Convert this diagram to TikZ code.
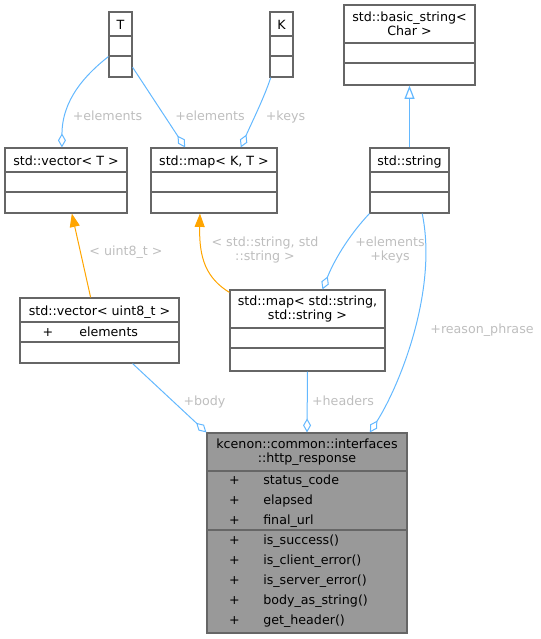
\documentclass[tikz,border=0pt]{standalone}
\usepackage{fontspec}
\usepackage{xcolor}
\usepackage{tikz}
\setmainfont{DejaVu Sans}
\usetikzlibrary{arrows.meta}
\definecolor{edgeblue}{HTML}{63B8FF}
\definecolor{edgeorange}{HTML}{FFA500}
\definecolor{boxgrey}{HTML}{666666}
\definecolor{labelgrey}{HTML}{BEBEBE}
\definecolor{mainfill}{HTML}{999999}

\begin{document}
\begin{tikzpicture}[x=0.75pt,y=0.75pt,yscale=-1,xscale=1,
  font=\fontsize{9.5}{10.5}\selectfont,
  cls/.style={draw=boxgrey, line width=0.9pt, fill=white, inner sep=0pt},
  agg/.style={draw=edgeblue, line width=0.75pt, -{Diamond[open,fill=white,length=10.5pt,width=6pt]}},
  tmpl/.style={draw=edgeorange, line width=0.75pt, -{Triangle[length=10pt,width=7.5pt]}},
  inh/.style={draw=edgeblue, line width=0.9pt, -{Triangle[open,fill=white,length=10pt,width=7.5pt]}},
  lbl/.style={text=labelgrey, inner sep=0.75pt, anchor=base},
  txt/.style={inner sep=0.75pt, anchor=base}]
%set diagram left start at 0, and has height of 639
\useasboundingbox (0,0) rectangle (541,639);

%Shape: Class boxes
\node[cls, minimum width=17.25pt, minimum height=48.75pt] (T) at (120.5,44.5) {};
\node[cls, minimum width=17.25pt, minimum height=48.75pt] (K) at (281.5,44.5) {};
\node[cls, minimum width=98.25pt, minimum height=60pt] (bstr) at (409.5,45) {};
\node[cls, minimum width=59.25pt, minimum height=48.75pt] (str) at (409.5,180.5) {};
\node[cls, minimum width=91.5pt, minimum height=48.75pt] (vecT) at (66,180.5) {};
\node[cls, minimum width=94.5pt, minimum height=48.75pt] (mapKT) at (214,180.5) {};
\node[cls, minimum width=119.25pt, minimum height=48.75pt] (vecU8) at (99.5,330.5) {};
\node[cls, minimum width=116.25pt, minimum height=60.75pt] (mapSS) at (307.5,330.5) {};
\node[cls, fill=mainfill, minimum width=150pt, minimum height=150pt] (resp) at (307,533) {};

%Straight Lines: compartments
\draw[boxgrey, line width=0.9pt] (109,36) -- (132,36) (109,56) -- (132,56);
\draw[boxgrey, line width=0.9pt] (270,36) -- (293,36) (270,56) -- (293,56);
\draw[boxgrey, line width=0.9pt] (344,43) -- (475,43) (344,63) -- (475,63);
\draw[boxgrey, line width=0.9pt] (370,172) -- (449,172) (370,192) -- (449,192);
\draw[boxgrey, line width=0.9pt] (5,172) -- (127,172) (5,192) -- (127,192);
\draw[boxgrey, line width=0.9pt] (151,172) -- (277,172) (151,192) -- (277,192);
\draw[boxgrey, line width=0.9pt] (20,322) -- (179,322) (20,342) -- (179,342);
\draw[boxgrey, line width=0.9pt] (230,328) -- (385,328) (230,348) -- (385,348);
\draw[boxgrey, line width=0.9pt] (207,471) -- (407,471) (207,530) -- (407,530);

% Text Node
\node[txt] (Tname) at (120.5,29.5) {T};
% Text Node
\node[txt] (Kname) at (281.5,29.5) {K};
% Text Node
\node[inner sep=0.75pt, align=center] (bstrname) at (409.5,23.5) {std::basic\_string<\\Char >};
% Text Node
\node[txt] (strname) at (409.5,165) {std::string};
% Text Node
\node[txt] (vecTname) at (66,165) {std::vector< T >};
% Text Node
\node[txt] (mapKTname) at (214,165) {std::map< K, T >};
% Text Node
\node[txt] (vecU8name) at (99.5,315) {std::vector< uint8\_t >};
\node[txt] (vecU8plus) at (48,336) {+};
\node[txt, anchor=base west] (vecU8elem) at (78,336) {elements};
% Text Node
\node[inner sep=0.75pt, align=center] (mapSSname) at (307.5,309.5) {std::map< std::string,\\std::string >};
% Text Node
\node[inner sep=0.75pt, align=center] (respname) at (307,452) {kcenon::common::interfaces\\::http\_response};
\foreach \m [count=\i from 0] in {status\_code,elapsed,final\_url,is\_success(),is\_client\_error(),is\_server\_error(),body\_as\_string(),get\_header()}{
  \node[txt] (respplus\i) at (234.5,484+20*\i) {+};
  \node[txt, anchor=base west] (respmem\i) at (262,484+20*\i) {\m};
}

%Connectors
\draw[agg] (T.225) .. controls (85,75) and (62,100) .. (vecT.97);
\draw[agg] (T.298) -- (mapKT.131);
\draw[agg] (K.252) .. controls (264,98) and (252,122) .. (mapKT.51);
\draw[inh] (str.north) -- (bstr.south);
\draw[tmpl] (vecU8.105) -- (vecT.280);
\draw[tmpl] (mapSS.154) .. controls (206,278) and (199,258) .. (mapKT.247);
\draw[agg] (str.south west) .. controls (352,232) and (336,256) .. (mapSS.70);
\draw[agg] (str.291) .. controls (438,290) and (400,385) .. (resp.58);
\draw[agg] (vecU8.315) -- (resp.north west);
\draw[agg] (mapSS.south) -- (resp.north);

% Text Node: connector labels
\node[lbl] (lelemT) at (107.5,120) {+elements};
\node[lbl] (lelemM) at (210,120) {+elements};
\node[lbl] (lkeys) at (285.5,120) {+keys};
\node[lbl] (luint) at (126,255) {< uint8\_t >};
\node[lbl, anchor=center, align=center] (lstrstr) at (265,250.5) {< std::string, std\\::string >};
\node[lbl, anchor=center, align=center] (lelemkeys) at (390,250.5) {+elements\\+keys};
\node[lbl] (lreason) at (482,333) {+reason\_phrase};
\node[lbl] (lbody) at (204.5,405) {+body};
\node[lbl] (lheaders) at (343,405) {+headers};

\end{tikzpicture}
\end{document}
